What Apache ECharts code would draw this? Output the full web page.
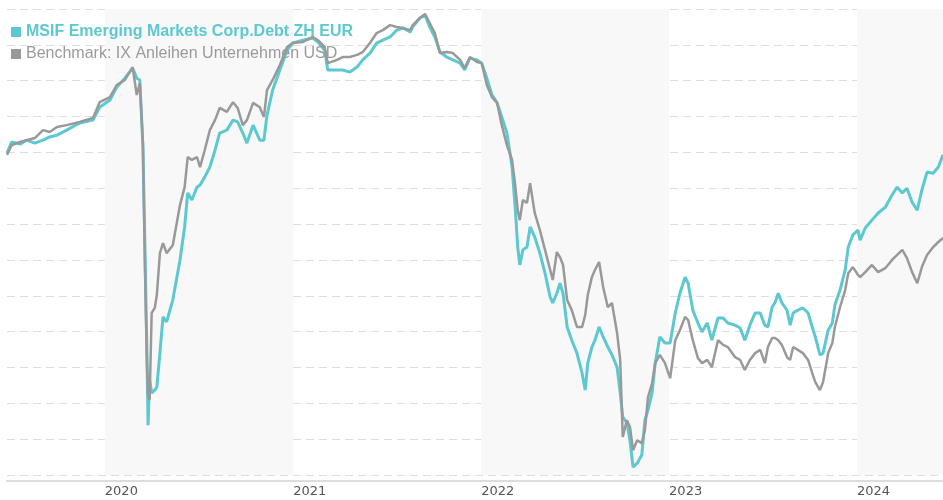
<!DOCTYPE html>
<html>
<head>
<meta charset="utf-8">
<script src="https://cdn.jsdelivr.net/npm/echarts@6/dist/echarts.min.js"></script>
<style>
html,body{margin:0;padding:0;background:#fff;}
#chart{width:943px;height:500px;}
</style>
</head>
<body>
<div id="chart"></div>
<script>
const seriesNames = ["MSIF Emerging Markets Corp.Debt ZH EUR", "Benchmark: IX Anleihen Unternehmen USD"];

const dates = [
"2019-06-25","2019-07-04","2019-07-20","2019-08-02","2019-08-18","2019-09-03","2019-09-16","2019-09-30","2019-10-19","2019-11-13",
"2019-12-09","2019-12-22","2020-01-11","2020-01-24","2020-02-09","2020-02-24","2020-03-03","2020-03-09","2020-03-15","2020-03-19",
"2020-03-23","2020-03-25","2020-03-28","2020-04-01","2020-04-07","2020-04-11","2020-04-17","2020-04-23","2020-04-30","2020-05-12",
"2020-05-26","2020-06-04","2020-06-10","2020-06-18","2020-06-28","2020-07-04","2020-07-13","2020-07-23","2020-08-02","2020-08-11",
"2020-08-25","2020-09-06","2020-09-15","2020-09-25","2020-10-03","2020-10-15","2020-10-28","2020-11-05","2020-11-11","2020-11-22",
"2020-12-06","2020-12-20","2020-12-31","2021-01-20","2021-02-08","2021-02-18","2021-03-03","2021-03-09","2021-03-27","2021-04-07",
"2021-04-21","2021-05-05","2021-05-16","2021-05-30","2021-06-12","2021-06-24","2021-07-08","2021-07-21","2021-08-02","2021-08-16",
"2021-08-21","2021-09-04","2021-09-14","2021-09-23","2021-10-03","2021-10-13","2021-10-26","2021-11-07","2021-11-21","2021-11-30",
"2021-12-10","2021-12-24","2022-01-02","2022-01-12","2022-01-22","2022-02-01","2022-02-10","2022-02-20","2022-03-02","2022-03-08",
"2022-03-13","2022-03-17","2022-03-23","2022-03-31","2022-04-06","2022-04-15","2022-04-25","2022-05-05","2022-05-15","2022-05-20",
"2022-05-28","2022-06-03","2022-06-09","2022-06-17","2022-06-26","2022-07-06","2022-07-16","2022-07-22","2022-07-27","2022-08-04",
"2022-08-10","2022-08-18","2022-08-26","2022-09-04","2022-09-12","2022-09-22","2022-09-28","2022-10-03","2022-10-11","2022-10-17",
"2022-10-23","2022-10-31","2022-11-09","2022-11-15","2022-11-21","2022-11-29","2022-12-05","2022-12-14","2022-12-24","2023-01-03",
"2023-01-13","2023-01-22","2023-02-01","2023-02-07","2023-02-16","2023-02-26","2023-03-06","2023-03-16","2023-03-25","2023-04-06",
"2023-04-16","2023-04-25","2023-05-09","2023-05-19","2023-05-28","2023-06-07","2023-06-17","2023-06-27","2023-07-06","2023-07-12",
"2023-07-20","2023-07-26","2023-08-01","2023-08-08","2023-08-18","2023-08-24","2023-08-30","2023-09-08","2023-09-18","2023-09-28",
"2023-10-06","2023-10-12","2023-10-21","2023-10-27","2023-11-06","2023-11-14","2023-11-19","2023-11-29","2023-12-09","2023-12-15",
"2023-12-24","2024-01-03","2024-01-07","2024-01-17","2024-01-30","2024-02-11","2024-02-25","2024-03-09","2024-03-19","2024-03-29",
"2024-04-07","2024-04-17","2024-04-27","2024-05-06","2024-05-16","2024-05-28","2024-06-07","2024-06-16"
];

const fundValues = [
99.8,102.9,102.3,103.4,102.6,103.4,104.3,104.8,106.2,108.2,
109.0,112.6,114.6,118.2,120.7,123.5,120.7,120.2,101.5,72.8,
42.1,23.9,36.5,32.9,33.7,34.5,44.0,54.1,52.7,58.8,
70.0,79.2,88.7,86.7,90.3,90.9,93.1,95.9,100.6,105.4,
106.2,109.0,108.5,105.4,102.6,107.6,103.4,103.4,110.4,117.4,
123.0,128.5,130.5,131.3,131.9,130.8,128.5,123.0,123.0,123.0,
122.4,123.8,125.8,127.7,130.5,131.3,132.2,134.1,134.7,133.6,
135.0,137.5,138.3,135.0,132.2,128.0,126.6,125.8,124.9,123.0,
126.3,125.8,124.9,120.7,116.0,113.8,109.9,105.4,95.9,84.7,
73.6,68.6,72.8,73.6,79.2,76.4,71.9,66.3,59.6,58.0,
60.7,63.5,60.7,51.3,47.6,44.0,38.4,33.7,41.2,45.7,
47.6,51.3,48.5,45.7,43.5,40.1,32.9,26.2,24.5,19.7,
12.2,13.3,15.6,25.3,28.1,32.9,41.2,48.5,46.8,46.8,
55.2,60.7,65.2,63.5,56.0,52.4,49.9,52.4,47.6,53.8,
53.8,52.4,51.8,51.0,47.6,51.8,55.2,55.2,51.8,51.3,
56.8,58.2,60.7,58.0,56.0,51.8,55.2,56.0,56.6,55.2,
51.3,48.5,43.5,44.0,50.4,52.4,57.4,61.6,67.2,73.6,
77.0,78.3,75.5,78.9,81.1,83.1,84.7,88.1,90.3,88.7,
90.0,86.1,83.9,89.5,94.5,94.2,95.9,99.3
];

const benchmarkValues = [
99.3,102.0,102.9,103.4,104.0,106.2,105.7,107.1,107.6,108.5,
109.6,114.0,115.4,118.8,120.2,123.8,116.0,119.3,102.6,67.2,
40.1,32.3,30.9,55.2,56.6,60.2,71.9,74.7,71.9,74.1,
85.3,90.3,98.7,97.9,98.7,95.9,100.6,106.2,109.0,112.4,
111.3,114.0,112.4,107.6,109.0,113.8,112.6,109.9,117.4,120.2,
124.4,129.4,130.5,130.8,132.2,131.3,129.4,124.9,125.8,126.6,
126.6,127.2,128.0,130.5,133.3,134.1,135.5,135.0,134.7,134.1,
135.5,137.5,138.6,136.1,133.3,127.7,128.0,127.7,125.8,123.5,
126.6,125.2,124.9,118.8,115.4,113.8,107.6,102.0,97.9,90.9,
83.9,81.1,86.7,85.9,91.4,83.1,78.3,72.8,67.2,64.4,
72.2,70.8,68.6,58.8,56.0,51.3,51.3,54.6,60.2,65.2,
67.2,69.4,62.4,56.8,58.0,49.6,42.1,20.6,25.3,23.4,
16.9,19.7,18.9,22.5,31.7,35.6,41.2,43.5,41.2,37.0,
47.6,50.4,54.1,53.2,47.6,42.6,41.2,42.1,40.1,47.6,
46.3,45.7,42.9,42.1,39.3,42.1,44.0,44.9,41.2,45.7,
48.2,48.2,47.6,46.3,42.9,42.1,45.7,44.9,44.0,42.1,
38.4,35.9,33.7,35.9,44.0,46.8,51.3,56.8,61.6,66.3,
68.0,65.8,65.2,66.6,68.6,66.6,67.7,70.0,71.4,72.8,
70.5,66.6,63.5,68.0,71.4,73.6,75.0,76.1
];

const colors = ["#5cc8d0", "#999999"];

const chart = echarts.init(document.getElementById('chart'), null, {renderer: 'canvas'});
const fundData = dates.map((d, i) => [d, fundValues[i]]);
const benchData = dates.map((d, i) => [d, benchmarkValues[i]]);

chart.setOption({
  animation: false,
  backgroundColor: '#fff',
  grid: {left: 7, right: 0, top: 9, bottom: 25, containLabel: false},
  legend: {
    orient: 'vertical',
    left: 11,
    top: 24,
    padding: 0,
    itemGap: 6,
    itemWidth: 10,
    itemHeight: 10,
    icon: 'rect',
    selectedMode: false,
    data: [
      {name: seriesNames[0], textStyle: {color: colors[0], fontWeight: 'bold', fontSize: 16, fontFamily: 'Liberation Sans, Arial, sans-serif'}},
      {name: seriesNames[1], textStyle: {color: '#9a9a9a', fontWeight: 'normal', fontSize: 16, fontFamily: 'Liberation Sans, Arial, sans-serif'}}
    ]
  },
  xAxis: {
    type: 'time',
    min: dates[0],
    max: dates[dates.length - 1],
    offset: 6,
    minInterval: 365 * 24 * 3600 * 1000,
    axisLine: {show: true, lineStyle: {color: '#dddddd', width: 2}},
    axisTick: {show: false},
    splitLine: {show: false},
    splitArea: {show: true, areaStyle: {color: ['rgba(255,255,255,0)', '#f8f8f8']}},
    axisLabel: {
      show: true,
      showMinLabel: false,
      showMaxLabel: false,
      align: 'left',
      margin: 4,
      color: '#555555',
      fontSize: 13,
      fontFamily: 'DejaVu Sans, sans-serif',
      formatter: function (val) {
        const d = new Date(val);
        return (d.getMonth() === 0 && d.getDate() === 1) ? String(d.getFullYear()) : '';
      }
    }
  },
  yAxis: {
    type: 'value',
    min: 10,
    max: 140,
    interval: 10,
    axisLine: {show: false},
    axisTick: {show: false},
    axisLabel: {show: false},
    splitLine: {show: true, lineStyle: {color: '#dedede', width: 1, type: [8, 5]}}
  },
  series: [
    {
      name: seriesNames[0],
      type: 'line',
      data: fundData,
      showSymbol: false,
      color: colors[0],
      lineStyle: {width: 3, color: colors[0]},
      z: 2
    },
    {
      name: seriesNames[1],
      type: 'line',
      data: benchData,
      showSymbol: false,
      color: colors[1],
      lineStyle: {width: 2.5, color: colors[1]},
      z: 3
    }
  ]
});
</script>
</body>
</html>
